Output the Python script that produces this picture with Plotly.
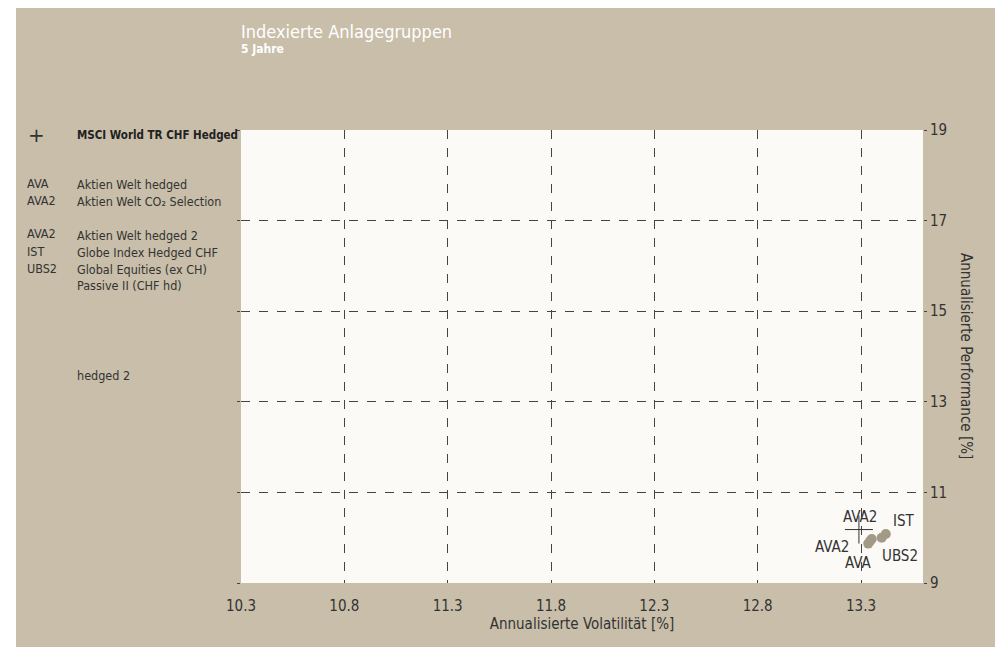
import plotly.graph_objects as go

# ---- data ----
fund_codes = ["AVA", "AVA2", "AVA2", "IST", "UBS2"]
fund_names = ["Aktien Welt hedged", "Aktien Welt CO\u2082 Selection", "Aktien Welt hedged 2",
              "Globe Index Hedged CHF", "Global Equities (ex CH)<br>Passive II (CHF hd)"]
volatility = [13.335, 13.345, 13.352, 13.42, 13.40]
performance = [9.87, 9.93, 9.97, 10.08, 10.00]
bench_name = "MSCI World TR CHF Hedged"
bench_vol = [13.29]
bench_perf = [10.18]
x_ticks = [10.3, 10.8, 11.3, 11.8, 12.3, 12.8, 13.3]
y_ticks = [9, 11, 13, 15, 17, 19]

OFF = 8  # page body margin
W, H = 995, 647
ML, MT = 233, 122
MR, MB = W - 915, H - 575
PW, PH = W - ML - MR, H - MT - MB
def px(x): return (x - OFF - ML) / PW          # page pixel -> paper x
def py(y): return (H - MB - (y - OFF)) / PH    # page pixel -> paper y

FONT = "DejaVu Sans Condensed, Liberation Sans Narrow, sans-serif"
BEIGE = "#c8bea9"
DARK = "#333333"
MARK = "#a39a86"

fig = go.Figure()
fig.add_trace(go.Scatter(x=volatility, y=performance, mode="markers",
                         marker=dict(size=10, color=MARK), hoverinfo="skip", showlegend=False))
fig.add_trace(go.Scatter(x=bench_vol, y=bench_perf, mode="markers",
                         marker=dict(symbol="cross-thin", size=20, line=dict(color=DARK, width=1)),
                         hoverinfo="skip", showlegend=False))

# point labels (offsets in pixels)
label_offsets = [(-10, -19), (-38, -6), (-12, 22), (18, 13), (18, -18)]
for i, (code, x, y) in enumerate(zip(fund_codes, volatility, performance)):
    dx, dy = label_offsets[i]
    fig.add_annotation(x=x, y=y, text=code, showarrow=False, xshift=dx, yshift=dy,
                       font=dict(family=FONT, size=15, color=DARK))

# white outer strip on the left (page margin)
fig.add_shape(type="rect", xref="paper", yref="paper", x0=px(0), x1=px(16), y0=py(H + 40), y1=py(0),
              fillcolor="white", line_width=0, layer="below")

# title
fig.add_annotation(xref="paper", yref="paper", x=px(239), y=py(31), xanchor="left", yanchor="middle",
                   text="Indexierte Anlagegruppen", showarrow=False,
                   font=dict(family=FONT, size=18, color="white"))
fig.add_annotation(xref="paper", yref="paper", x=px(239), y=py(49), xanchor="left", yanchor="middle",
                   text="<b>5 Jahre</b>", showarrow=False,
                   font=dict(family=FONT, size=12, color="white"))

# left legend
fig.add_annotation(xref="paper", yref="paper", x=px(36), y=py(135), xanchor="center", yanchor="middle",
                   text="+", showarrow=False, font=dict(family="DejaVu Sans", size=20, color=DARK))
fig.add_annotation(xref="paper", yref="paper", x=px(75), y=py(135), xanchor="left", yanchor="middle",
                   text="<b>" + bench_name + "</b>", showarrow=False,
                   font=dict(family=FONT, size=11.5, color="#222222"))
rows_y = [183, 200, 234, 251, 268]
for code, name, ry in zip(fund_codes, fund_names, rows_y):
    fig.add_annotation(xref="paper", yref="paper", x=px(25), y=py(ry), xanchor="left", yanchor="middle",
                       text=code, showarrow=False, font=dict(family=FONT, size=12.5, color=DARK))
    fig.add_annotation(xref="paper", yref="paper", x=px(75), y=py(ry - 8), xanchor="left", yanchor="top",
                       text=name, showarrow=False, align="left",
                       font=dict(family=FONT, size=12.5, color=DARK))
fig.add_annotation(xref="paper", yref="paper", x=px(75), y=py(375), xanchor="left", yanchor="middle",
                   text="hedged 2", showarrow=False, font=dict(family=FONT, size=12.5, color=DARK))

# y axis title (reads top to bottom)
fig.add_annotation(xref="paper", yref="paper", x=px(966), y=py(356), xanchor="center", yanchor="middle",
                   text="Annualisierte Performance [%]", textangle=90, showarrow=False,
                   font=dict(family=FONT, size=15, color=DARK))

grid = dict(showgrid=True, gridcolor="#444444", griddash="dash", gridwidth=1, zeroline=False,
            showline=False)
fig.update_layout(
    width=W, height=H, margin=dict(l=ML, r=MR, t=MT, b=MB),
    paper_bgcolor=BEIGE, plot_bgcolor="#fbfaf7",
    font=dict(family=FONT, size=15, color=DARK),
    xaxis=dict(range=[10.3, 13.6], tickmode="array", tickvals=x_ticks,
               ticktext=[f"{v:.1f}" for v in x_ticks], ticks="outside", ticklen=9,
               tickcolor="rgba(0,0,0,0)",
               title=dict(text="Annualisierte Volatilität [%]", font=dict(size=15), standoff=4), **grid),
    yaxis=dict(range=[9, 19], side="right", tickmode="array", tickvals=y_ticks,
               ticktext=[str(v) for v in y_ticks], ticks="outside", ticklen=3, tickcolor="#444444",
               mirror="ticks", **grid),
)
page_css = (
    "var d=document.documentElement;d.style.overflow='hidden';document.body.style.overflow='hidden';"
    "d.style.background='linear-gradient(#ffffff,#ffffff) 0 0/100% 8px no-repeat,"
    "linear-gradient(#ffffff,#ffffff) 0 0/16px 100% no-repeat," + BEIGE + "';"
)
fig.write_html("out.html", post_script=page_css)
